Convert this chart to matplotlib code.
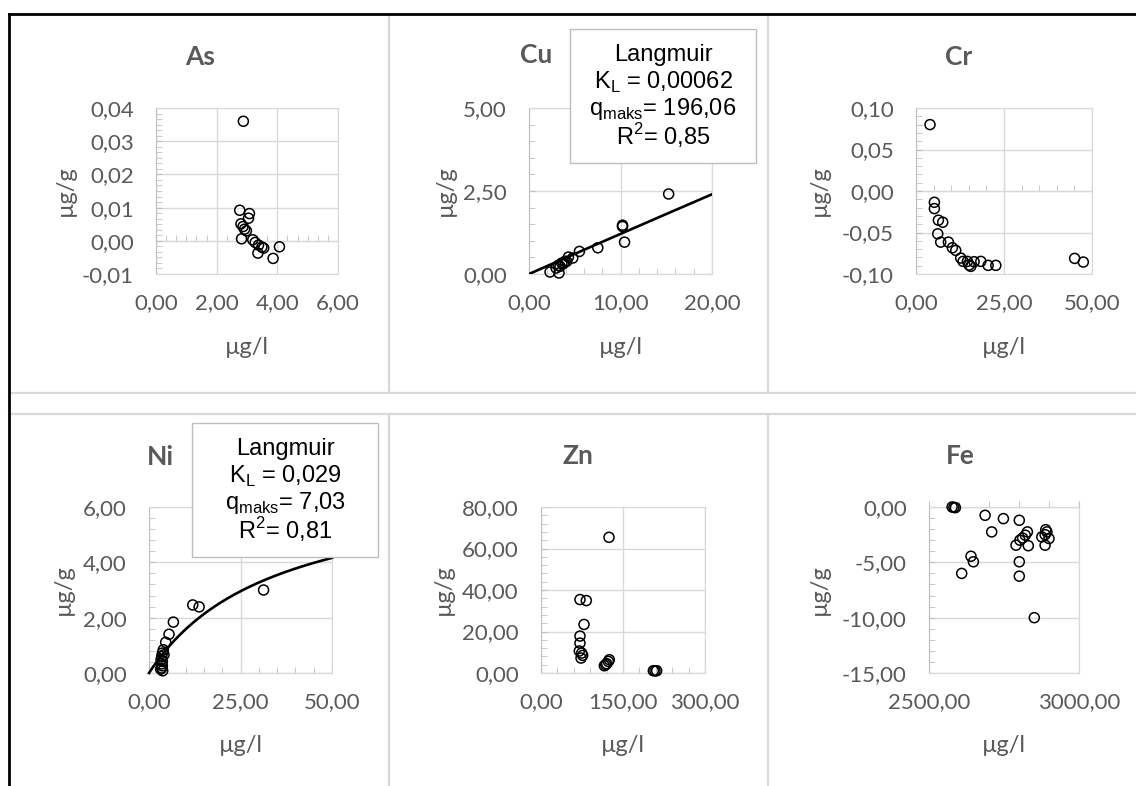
import matplotlib
matplotlib.use('Agg')
import matplotlib.pyplot as plt
from matplotlib.ticker import MultipleLocator, FuncFormatter
from matplotlib.patches import Rectangle
from matplotlib.lines import Line2D
import numpy as np

#
# Data (x = µg/l in solution, y = µg/g sorbed)
#

as_x = [2.88, 2.76, 3.08, 3.05, 2.80, 2.87, 2.92, 2.98, 2.82, 3.19, 3.27, 3.38,
        3.49, 3.55, 3.36, 4.07, 3.86]
as_y = [0.036, 0.0092, 0.0082, 0.0068, 0.0051, 0.0043, 0.0035, 0.0030, 0.0006,
        0.0003, -0.0005, -0.0013, -0.0019, -0.0022, -0.0037, -0.0018, -0.0053]

cu_x = [15.26, 10.22, 10.22, 10.44, 7.52, 5.51, 4.78, 4.31, 3.94, 3.58, 3.21,
        3.39, 2.96, 2.30, 3.28, 3.76, 4.12]
cu_y = [2.41, 1.47, 1.43, 0.96, 0.79, 0.68, 0.48, 0.51, 0.38, 0.33, 0.26, 0.23,
        0.18, 0.06, 0.03, 0.31, 0.38]
cu_KL = 0.00062
cu_qmax = 196.06
cu_R2 = 0.85

cr_x = [3.98, 5.22, 5.22, 6.36, 7.59, 6.17, 7.02, 9.20, 10.34, 11.29, 12.71,
        13.38, 14.61, 15.09, 15.56, 16.51, 18.41, 20.49, 22.68, 45.07, 47.53]
cr_y = [0.080, -0.0136, -0.0212, -0.0352, -0.0376, -0.0516, -0.0616, -0.0616,
        -0.0684, -0.0716, -0.0808, -0.0848, -0.0848, -0.0892, -0.0908, -0.0852,
        -0.0848, -0.0896, -0.0896, -0.0812, -0.0856]

ni_x = [31.3, 11.95, 13.7, 6.66, 5.47, 4.56, 3.92, 3.65, 3.47, 3.28, 3.65, 3.38,
        3.65, 3.47, 3.74, 3.19, 4.10]
ni_y = [3.00, 2.46, 2.39, 1.84, 1.40, 1.11, 0.84, 0.72, 0.60, 0.48, 0.42, 0.33,
        0.26, 0.18, 0.08, 0.14, 0.66]
ni_KL = 0.029
ni_qmax = 7.03
ni_R2 = 0.81

zn_x = [124.4, 71.3, 82.9, 78.7, 71.3, 71.3, 70.1, 74.4, 76.2, 73.2, 115.9,
        120.1, 125.0, 123.2, 118.3, 205.5, 211.6, 208.5]
zn_y = [65.4, 35.4, 34.9, 23.4, 17.8, 14.4, 10.6, 9.6, 8.5, 7.2, 3.5, 4.5, 6.4,
        5.6, 4.0, 1.1, 1.1, 1.0]

fe_x = [2577, 2588, 2583, 2687, 2748, 2801, 2709, 2828, 2821, 2812, 2803, 2790,
        2831, 2889, 2893, 2887, 2876, 2900, 2887, 2640, 2648, 2609, 2801, 2801,
        2851]
fe_y = [0.0, -0.06, -0.03, -0.75, -1.05, -1.2, -2.25, -2.25, -2.55, -2.8, -3.0,
        -3.45, -3.5, -2.05, -2.25, -2.5, -2.7, -2.85, -3.45, -4.45, -4.95, -6.0,
        -4.95, -6.25, -10.0]

x_unit = 'µg/l'
y_unit = 'µg/g'

#
# Figure set-up, everything positioned in pixels of a 1136x786 canvas
#

W, H = 1136, 786
fig = plt.figure(figsize=(W / 100, H / 100), dpi=100)

CAL = ['Lato', 'DejaVu Sans']
ARIAL = ['Liberation Sans', 'DejaVu Sans']
GRID = '#d9d9d9'
AXC = '#bfbfbf'
TXT = '#595959'


def fx(x):
    return x / W


def fy(y):
    return 1 - y / H


def comma(v, pos):
    s = '{:.2f}'.format(v).replace('.', ',')
    return '0,00' if s == '-0,00' else s


def panel(left, right, top, bottom, xs, ys, xlim, xticks, xminor,
          ylim, yticks, yminor, title, title_xy, ylab_x):
    ax = fig.add_axes([fx(left), fy(bottom), (right - left) / W, (bottom - top) / H])
    ax.set_xlim(*xlim)
    ax.set_ylim(*ylim)
    ax.set_xticks(xticks)
    ax.set_yticks(yticks)
    ax.yaxis.set_minor_locator(MultipleLocator(yminor))
    ax.xaxis.set_major_formatter(FuncFormatter(comma))
    ax.yaxis.set_major_formatter(FuncFormatter(comma))
    ax.grid(True, which='major', color=GRID, lw=1)
    ax.set_axisbelow(True)
    for s in ['top', 'right', 'bottom']:
        ax.spines[s].set_color(GRID)
    ax.spines['left'].set_color(AXC)
    ax.tick_params(axis='x', which='both', length=0, pad=14, labelsize=16,
                   labelcolor=TXT)
    ax.tick_params(axis='y', which='both', direction='in', length=4, color=AXC,
                   pad=16, labelsize=16, labelcolor=TXT)
    for t in ax.get_xticklabels() + ax.get_yticklabels():
        t.set_family(CAL)

    # horizontal axis line crosses at y = 0
    sec = ax.secondary_xaxis(0, transform=ax.transData)
    sec.set_xticks(xticks)
    sec.xaxis.set_minor_locator(MultipleLocator(xminor))
    sec.tick_params(which='both', direction='in', length=4, color=AXC,
                    labelbottom=False, labeltop=False)
    for s in sec.spines.values():
        s.set_color(AXC)

    ax.scatter(xs, ys, s=52, facecolors='none', edgecolors='black',
               linewidths=1.1, zorder=3, clip_on=False)

    cx = (left + right) / 2
    cy = (top + bottom) / 2
    fig.text(fx(title_xy[0]), fy(title_xy[1]), title, ha='center', va='center',
             fontsize=19, fontweight='bold', color=TXT, family=CAL)
    fig.text(fx(cx), fy(bottom + 73), x_unit, ha='center', va='center',
             fontsize=17, color=TXT, family=CAL)
    fig.text(fx(ylab_x), fy(cy), y_unit, ha='center', va='center',
             rotation=90, fontsize=17, color=TXT, family=CAL)
    return ax


def langmuir_box(x0, x1, y0, y1, KL, qmax, R2, kl_txt):
    fig.patches.append(Rectangle((fx(x0), fy(y1)), (x1 - x0) / W, (y1 - y0) / H,
                                 transform=fig.transFigure, facecolor='white',
                                 edgecolor=AXC, lw=1, zorder=5))
    cx = (x0 + x1) / 2
    q_txt = '{:.2f}'.format(qmax).replace('.', ',')
    r_txt = '{:.2f}'.format(R2).replace('.', ',')
    lines = ['Langmuir',
             r'K$_\mathregular{L}$ = ' + kl_txt,
             r'q$_\mathregular{maks}$= ' + q_txt,
             r'R$^\mathregular{2}$= ' + r_txt]
    for i, s in enumerate(lines):
        fig.text(fx(cx), fy(y0 + 26 + i * 27), s, ha='center', va='center',
                 fontsize=17, color='black', family=ARIAL, zorder=6)


# As
panel(156, 338, 108, 274, as_x, as_y, (0, 6), [0, 2, 4, 6], 2 / 6,
      (-0.01, 0.04), np.arange(-0.01, 0.041, 0.01), 0.01 / 6, 'As', (200, 57), 65)

# Cu with Langmuir fit
ax_cu = panel(529, 712, 108, 274, cu_x, cu_y, (0, 20), [0, 10, 20], 2,
              (0, 5), [0, 2.5, 5], 0.5, 'Cu', (536, 55), 445)
c = np.linspace(0, 20, 200)
ax_cu.plot(c, cu_qmax * cu_KL * c / (1 + cu_KL * c), color='black', lw=1.9, zorder=4)
langmuir_box(570, 756, 29, 163, cu_KL, cu_qmax, cu_R2, '0,00062')

# Cr
panel(916, 1092, 108, 274, cr_x, cr_y, (0, 50), [0, 25, 50], 5,
      (-0.10, 0.10), [-0.10, -0.05, 0, 0.05, 0.10], 0.01, 'Cr', (959, 57), 819)

# Ni with Langmuir fit
ax_ni = panel(149, 332, 507, 673, ni_x, ni_y, (0, 50), [0, 25, 50], 5,
              (0, 6), [0, 2, 4, 6], 0.4, 'Ni', (160, 457), 63)
c = np.linspace(0, 50, 200)
ax_ni.plot(c, ni_qmax * ni_KL * c / (1 + ni_KL * c), color='black', lw=1.9,
           zorder=4, clip_on=False)
langmuir_box(192, 378, 423, 557, ni_KL, ni_qmax, ni_R2, '0,029')

# Zn
panel(541, 705, 507, 673, zn_x, zn_y, (0, 300), [0, 150, 300], 30,
      (0, 80), [0, 20, 40, 60, 80], 4, 'Zn', (578, 456), 443)

# Fe
panel(929, 1079, 507, 673, fe_x, fe_y, (2500, 3000), [2500, 3000], 100,
      (-15, 0), [-15, -10, -5, 0], 1, 'Fe', (960, 456), 819)

#
# Chart borders and outer frame
#

def fline(xa, ya, xb, yb, color, lw):
    fig.lines.append(Line2D([fx(xa), fx(xb)], [fy(ya), fy(yb)],
                            transform=fig.transFigure, color=color, lw=lw, zorder=7))


for xv in [388.5, 768.5]:
    fline(xv, 15, xv, 393, GRID, 1.6)
    fline(xv, 414, xv, 786, GRID, 1.6)
fline(9, 393, 1136, 393, GRID, 1.6)
fline(9, 414, 1136, 414, GRID, 1.6)
fline(8.5, 14, 1136, 14, 'black', 2)
fline(8.5, 14, 8.5, 786, 'black', 2)

fig.savefig('out.png', dpi=100)
